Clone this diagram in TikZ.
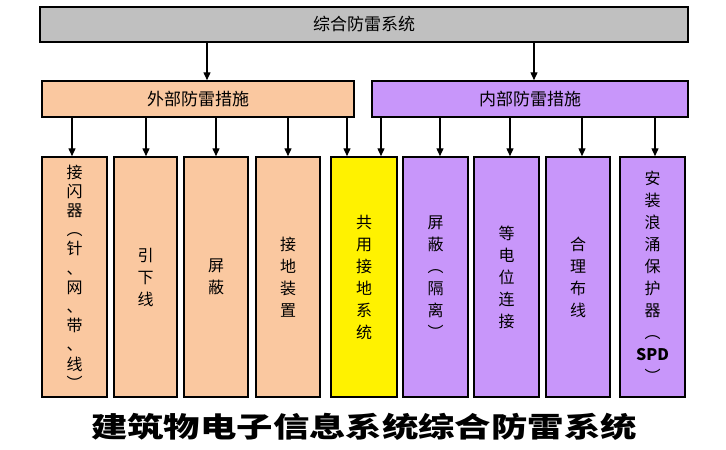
\documentclass[tikz,border=0pt]{standalone}
\usepackage{fontspec}
\setmainfont{Noto Sans CJK SC}
\usetikzlibrary{arrows.meta}
\begin{document}
\begin{tikzpicture}[x=1pt,y=-1pt,
  box/.style={draw=black,line width=1.5pt,inner sep=0pt},
  orange/.style={fill={rgb,255:red,250;green,200;blue,160}},
  purple/.style={fill={rgb,255:red,200;green,150;blue,250}},
  arr/.style={-{Triangle[length=8pt,width=7pt]},line width=1.4pt},
  col/.style={box,minimum width=64pt,minimum height=240pt,align=center,font=\fontsize{16}{22}\selectfont}]
\useasboundingbox (0,0) rectangle (726,450);
\node[box,fill={rgb,255:red,192;green,192;blue,192},minimum width=648pt,minimum height=35pt,font=\fontsize{17}{18}\selectfont] (top) at (364,24.5) {综合防雷系统};
\node[box,orange,minimum width=312pt,minimum height=36pt,font=\fontsize{17}{18}\selectfont] (ext) at (198,99) {外部防雷措施};
\node[box,purple,minimum width=316pt,minimum height=36pt,font=\fontsize{17}{18}\selectfont] (int) at (530,99) {内部防雷措施};
\node[col,orange,minimum width=65pt,font=\fontsize{16}{19.2}\selectfont] (c1) at (74.5,277) {接\\闪\\器\\︵\\针\\、\\网\\、\\带\\、\\线\\︶};
\node[col,orange,minimum width=63pt] (c2) at (145.5,277) {引\\下\\线};
\node[col,orange] (c3) at (216,277) {屏\\蔽};
\node[col,orange] (c4) at (288,277) {接\\地\\装\\置};
\node[col,fill=yellow,minimum width=66pt] (c5) at (364,277) {共\\用\\接\\地\\系\\统};
\node[col,purple,minimum width=65pt] (c6) at (435.5,277) {屏\\蔽\\︵\\隔\\离\\︶};
\node[col,purple,minimum width=65pt] (c7) at (506.5,277) {等\\电\\位\\连\\接};
\node[col,purple] (c8) at (578,277) {合\\理\\布\\线};
\node[col,purple,minimum width=65pt] (c9) at (652.5,277) {安\\装\\浪\\涌\\保\\护\\器\\︵\\\textbf{SPD}\\︶};
\node[font=\fontsize{28}{30}\selectfont\bfseries,xscale=1.3,transform shape] (title) at (364,427) {建筑物电子信息系统综合防雷系统};
\draw[arr] (top.south -| 207,0) -- (ext.north -| 207,0);
\draw[arr] (top.south -| 534,0) -- (int.north -| 534,0);
\foreach \c/\x in {c1/72,c2/146,c3/216,c4/288,c5/347}
  \draw[arr] (ext.south -| \x,0) -- (\c.north -| \x,0);
\foreach \c/\x in {c5/381,c6/440,c7/510,c8/582,c9/655}
  \draw[arr] (int.south -| \x,0) -- (\c.north -| \x,0);
\end{tikzpicture}
\end{document}
